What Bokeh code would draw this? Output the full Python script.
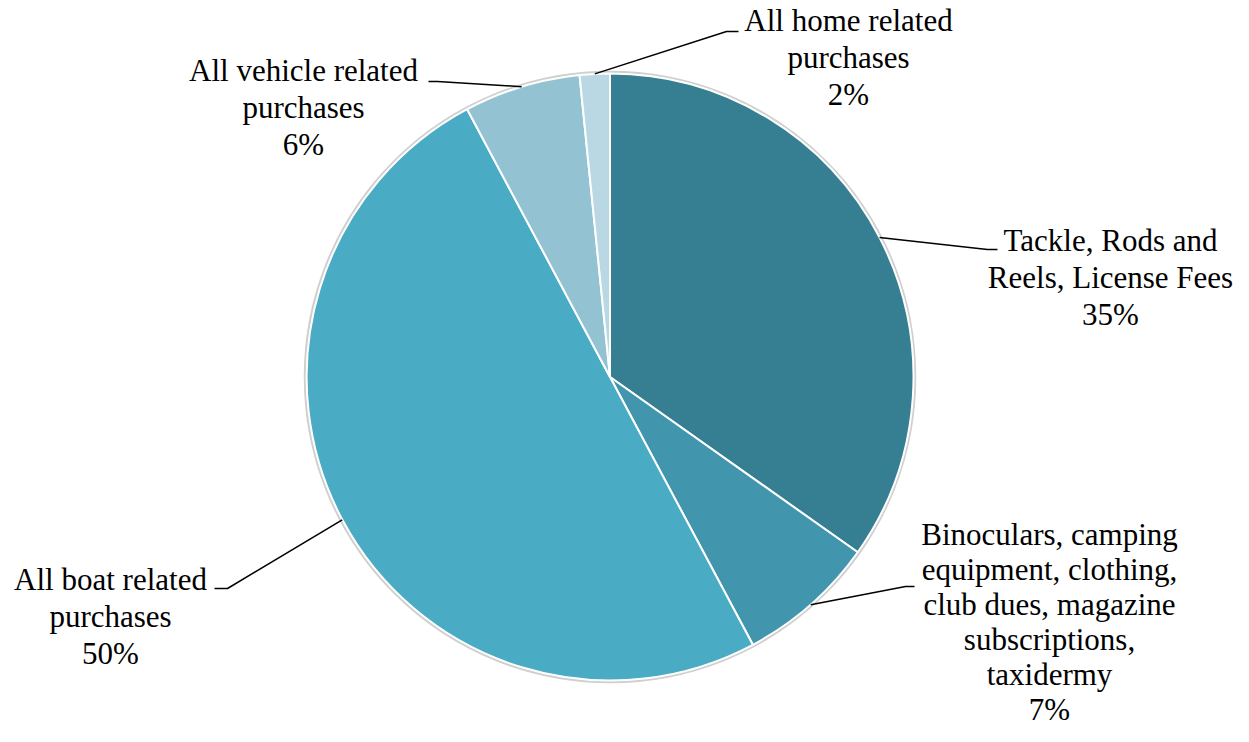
import math
from bokeh.plotting import figure
from bokeh.models import Range1d, ColumnDataSource
from bokeh.core.properties import value
from bokeh.embed import file_html
from bokeh.resources import INLINE

# ---- data ----
categories = [
    "Tackle, Rods and\nReels, License Fees",
    "Binoculars, camping\nequipment, clothing,\nclub dues, magazine\nsubscriptions,\ntaxidermy",
    "All boat related\npurchases",
    "All vehicle related\npurchases",
    "All home related\npurchases",
]
shares = [34.8, 7.4, 50.0, 6.2, 1.6]
colors = ["#367f93", "#4196ad", "#4aabc5", "#93c3d3", "#b9d8e3"]

# ---- layout (canvas pixel coordinates, y downward) ----
W, H = 1233, 726
TEXT_DY = 9
def Y(yi):
    return H - yi

cx, cy_img, R = 609.5, 376.5, 303.5
label_pos = [(1110, 249), (1049, 543), (110, 588), (303, 79), (848, 29)]
label_lh = [37, 35, 37, 37, 37]
elbows = [((987, 249), (997, 249)),
          ((905, 586), (914, 586)),
          ((227, 588), (214, 588)),
          ((437, 81), (428, 81)),
          ((726, 31), (738, 31))]

p = figure(width=W, height=H, x_range=Range1d(0, W), y_range=Range1d(0, H),
           output_backend="svg", toolbar_location=None, min_border=0,
           x_axis_location=None, y_axis_location=None)
p.grid.visible = False
p.outline_line_color = None
p.background_fill_color = "white"
p.border_fill_color = "white"

total = sum(shares)
cum = [0.0]
for v in shares:
    cum.append(cum[-1] + v / total)
starts = [math.pi / 2 - 2 * math.pi * cum[i + 1] for i in range(len(shares))]
ends = [math.pi / 2 - 2 * math.pi * cum[i] for i in range(len(shares))]

cy = Y(cy_img)
# faint shadow ring
p.circle(x=[cx], y=[cy], radius=R + 1.5, fill_color=None, line_color="#cfcfcf", line_width=2.5)
src = ColumnDataSource(dict(start=starts, end=ends, color=colors))
p.wedge(x=cx, y=cy, radius=R, start_angle="start", end_angle="end", direction="anticlock",
        fill_color="color", line_color="white", line_width=2, source=src)

# leader lines + labels
lx, ly, lt = [], [], []
for i, (cat, v) in enumerate(zip(categories, shares)):
    mid = (cum[i] + cum[i + 1]) / 2 * 2 * math.pi
    sx = cx + R * math.sin(mid)
    sy = cy + R * math.cos(mid)
    (ex, ey), (fx, fy) = elbows[i]
    p.line(x=[sx, ex, fx], y=[sy, Y(ey), Y(fy)], line_color="black", line_width=1.5)
    lines = cat.split("\n") + [f"{round(v)}%"]
    x0, y0 = label_pos[i]
    for k, t in enumerate(lines):
        lx.append(x0)
        ly.append(Y(y0 + k * label_lh[i] - TEXT_DY))
        lt.append(t)

p.text(x=lx, y=ly, text=lt, text_font=value("Liberation Serif"), text_font_size="31px",
       text_align="center", text_baseline="alphabetic", text_color="black")

open("out.html", "w").write(file_html(p, INLINE))
